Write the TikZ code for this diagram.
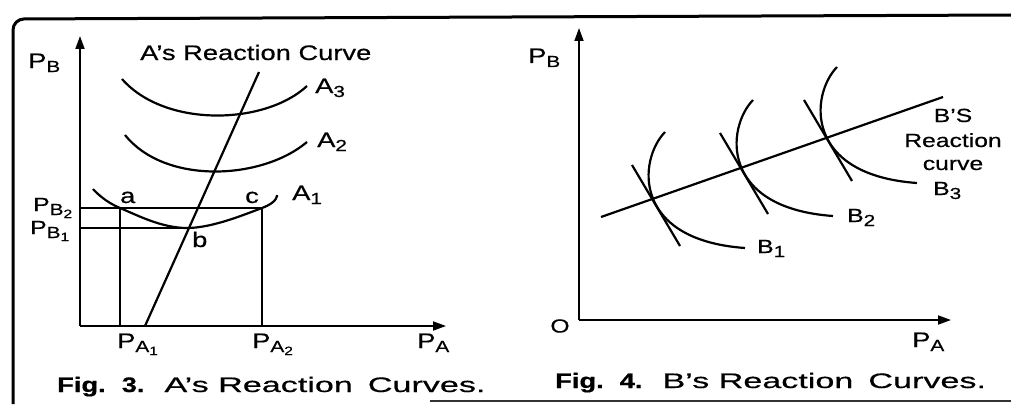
\documentclass[tikz,border=0pt]{standalone}
\usepackage{fontspec}
\setmainfont{Liberation Sans}[FakeStretch=1.3,FakeBold=0.5]
\usetikzlibrary{arrows.meta}
\newcommand{\lsub}[1]{\raisebox{-4pt}{\fontsize{16}{16}\selectfont #1}}
\newcommand{\llsub}[1]{\raisebox{-3pt}{\fontsize{12}{12}\selectfont #1}}
\tikzset{
  lbl/.style={inner sep=0pt, anchor=base west, font=\fontsize{21}{21}\selectfont},
  slbl/.style={inner sep=0pt, anchor=base west, font=\fontsize{19}{19}\selectfont},
  axis/.style={line width=1.8pt, -{Triangle[length=13pt,width=9pt]}},
  crv/.style={line width=2.2pt},
  guide/.style={line width=1.8pt},
}
\begin{document}
\begin{tikzpicture}[x=1pt,y=-1pt]
\useasboundingbox (0,0) rectangle (1011,404);
% frame
\draw[line width=3pt, rounded corners=11pt] (1011,15) -- (13,19) -- (13,404);
\draw[line width=2pt, black!80] (430,401) -- (1011,401);

% ---------- Fig. 3 ----------
\coordinate (O3) at (80,326);
\coordinate (Y3) at (80,36);
\coordinate (X3) at (446,326);
\draw[axis] (O3) -- (Y3);
\draw[axis] (O3) -- (X3);
% A's reaction line
\coordinate (r0) at (145,326);
\coordinate (r1) at (259,72);
\draw[crv] (r0) -- (r1);
% iso-profit curves
\coordinate (a3s) at (122,79);  \coordinate (a3e) at (307,86);
\coordinate (a2s) at (125,135); \coordinate (a2e) at (307,142);
\draw[crv] (a3s) .. controls (165,128) and (265,125) .. (a3e);
\draw[crv] (a2s) .. controls (165,185) and (262,180) .. (a2e);
\coordinate (a) at (120,208);
\coordinate (b) at (187,228);
\coordinate (c) at (262,208);
\coordinate (a1s) at (93,189); \coordinate (a1e) at (277,195);
\draw[crv] plot[smooth, tension=0.65] coordinates {(a1s) (a) (b) (c) (a1e)};
% guide lines
\coordinate (yb2) at (80,208);
\coordinate (yb1) at (80,228);
\coordinate (xa1) at (120,326);
\coordinate (xa2) at (262,326);
\draw[guide] (yb2) -- (c);
\draw[guide] (yb1) -- (b);
\draw[guide] (a) -- (xa1);
\draw[guide] (c) -- (xa2);
% labels
\node[lbl] (lpb3) at (28,68) {P\lsub{B}};
\node[lbl] (ltitle) at (140,60) {A's Reaction Curve};
\node[lbl] (lA3) at (315,93) {A\lsub{3}};
\node[lbl] (lA2) at (317,147) {A\lsub{2}};
\node[lbl] (lA1) at (292,200) {A\lsub{1}};
\node[slbl] (lpb2) at (33,211) {P\lsub{B\llsub{2}}};
\node[slbl] (lpb1) at (30,234) {P\lsub{B\llsub{1}}};
\node[lbl] (la) at (120,203) {a};
\node[lbl] (lc) at (245,203) {c};
\node[lbl] (lb) at (192,247) {b};
\node[lbl] (lpa1) at (117,348) {P\lsub{A\llsub{1}}};
\node[lbl] (lpa2) at (252,348) {P\lsub{A\llsub{2}}};
\node[lbl] (lpa3) at (417,348) {P\lsub{A}};
\node[lbl] (cap3) at (57,392) {\textbf{Fig.\hspace{16pt}3.}\hspace{20pt}\scalebox{1.25}[1]{A's Reaction\hspace{12pt}Curves.}};

% ---------- Fig. 4 ----------
\coordinate (O4) at (579,320);
\coordinate (Y4) at (579,28);
\coordinate (X4) at (951,320);
\draw[axis] (O4) -- (Y4);
\draw[axis] (O4) -- (X4);
\coordinate (s0) at (601,217);
\coordinate (s1) at (943,97);
\draw[crv] (s0) -- (s1);
% iso-profit curves B1, B2, B3 (same shape, shifted)
\foreach \dx/\dy/\nm in {0/0/1, 88/-32/2, 172/-65/3}{
  \begin{scope}[shift={(\dx,\dy)}]
    \coordinate (bt\nm) at (665,132);
    \coordinate (be\nm) at (745,248);
    \coordinate (tt\nm) at (632,165);
    \coordinate (tb\nm) at (680,246);
    \draw[crv] (bt\nm) .. controls (638,160) and (632,240) .. (be\nm);
    \draw[crv] (tt\nm) -- (tb\nm);
  \end{scope}
}
\node[lbl] (lpb4) at (528,63) {P\lsub{B}};
\node[inner sep=0pt, font=\fontsize{19}{19}\selectfont] (lO) at (560,326) {O};
\node[lbl] (lpa4) at (912,347) {P\lsub{A}};
\node[slbl, anchor=base] (lbs1) at (953,122) {B'S};
\node[slbl, anchor=base] (lbs2) at (953,147) {Reaction};
\node[slbl, anchor=base] (lbs3) at (953,170) {curve};
\node[slbl] (lB3) at (933,195) {B\lsub{3}};
\node[slbl] (lB2) at (847,222) {B\lsub{2}};
\node[slbl] (lB1) at (757,253) {B\lsub{1}};
\node[lbl] (cap4) at (555,388) {\textbf{Fig.\hspace{16pt}4.}\hspace{20pt}\scalebox{1.25}[1]{B's Reaction\hspace{12pt}Curves.}};
\end{tikzpicture}
\end{document}
